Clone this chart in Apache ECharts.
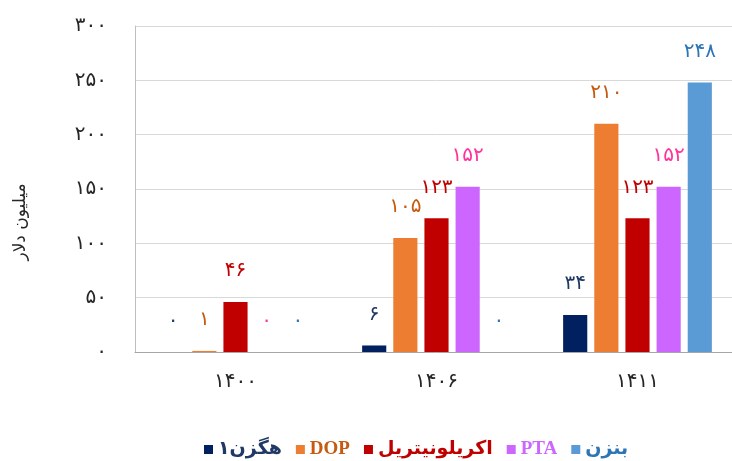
<!DOCTYPE html>
<html>
<head>
<meta charset="utf-8">
<script src="https://cdn.jsdelivr.net/npm/echarts@6/dist/echarts.min.js"></script>
<style>
  html, body { margin: 0; padding: 0; background: #ffffff; overflow: hidden; }
  #chart { width: 740px; height: 461px; }
</style>
</head>
<body>
<div id="chart"></div>
<script>
// Years on the category axis
const years = ['۱۴۰۰', '۱۴۰۶', '۱۴۱۱'];

// Export value per product (million USD)
const hexene = [0, 6, 34];
const dop = [1, 105, 210];
const acrylonitrile = [46, 123, 123];
const pta = [0, 152, 152];
const benzene = [0, 0, 248];

const seriesNames = ['هگزن۱', 'DOP', 'اکریلونیتریل', 'PTA', 'بنزن'];
const yAxisTitle = 'میلیون دلار';

const barColors = ['#002060', '#ED7D31', '#C00000', '#CC66FF', '#5B9BD5'];
const labelColors = ['#1F3864', '#C55A11', '#C00000', '#FF3399', '#2E75B6'];
const legendColors = ['#1F3864', '#C55A11', '#C00000', '#CC66FF', '#2E75B6'];

const persianDigits = '۰۱۲۳۴۵۶۷۸۹';
function toPersian(n) {
  return String(n).replace(/[0-9]/g, d => persianDigits[+d]);
}

const values = [hexene, dop, acrylonitrile, pta, benzene];
const latinNames = { 'DOP': true, 'PTA': true };

const chart = echarts.init(document.getElementById('chart'));

chart.setOption({
  animation: false,
  // the plot area runs a little past the right edge of the visible page
  grid: { left: 135, right: 2, top: 26, bottom: 109, containLabel: false },
  legend: {
    top: 435,
    left: 199,
    icon: 'rect',
    itemWidth: 9,
    itemHeight: 9,
    itemGap: 14,
    data: seriesNames.map((name, i) => ({
      name: name,
      textStyle: {
        color: legendColors[i],
        fontSize: 19,
        fontWeight: 'bold',
        fontFamily: latinNames[name] ? 'Liberation Serif' : 'DejaVu Sans'
      }
    }))
  },
  xAxis: {
    type: 'category',
    data: years,
    axisLine: { lineStyle: { color: '#a6a6a6', width: 1 } },
    axisTick: { show: false },
    axisLabel: {
      color: '#262626',
      fontSize: 20,
      fontFamily: 'DejaVu Sans',
      margin: 20
    }
  },
  yAxis: {
    type: 'value',
    min: 0,
    max: 300,
    interval: 50,
    axisLine: { show: true, lineStyle: { color: '#bfbfbf', width: 1 } },
    axisTick: { show: false },
    splitLine: { lineStyle: { color: '#d9d9d9', width: 1 } },
    axisLabel: {
      color: '#262626',
      fontSize: 20,
      fontFamily: 'DejaVu Sans',
      margin: 28,
      formatter: v => toPersian(v)
    }
  },
  graphic: [{
    type: 'text',
    x: 21,
    y: 222,
    rotation: Math.PI / 2,
    style: {
      text: yAxisTitle,
      fill: '#262626',
      fontSize: 17,
      fontFamily: 'DejaVu Sans',
      align: 'center',
      verticalAlign: 'middle'
    }
  }],
  series: seriesNames.map((name, i) => ({
    name: name,
    type: 'bar',
    data: values[i],
    barGap: '29%',
    barCategoryGap: '26%',
    itemStyle: { color: barColors[i] },
    label: {
      show: true,
      position: 'top',
      distance: 21,
      color: labelColors[i],
      fontSize: 20,
      fontFamily: 'DejaVu Sans',
      formatter: p => toPersian(p.value)
    }
  }))
});
</script>
</body>
</html>
